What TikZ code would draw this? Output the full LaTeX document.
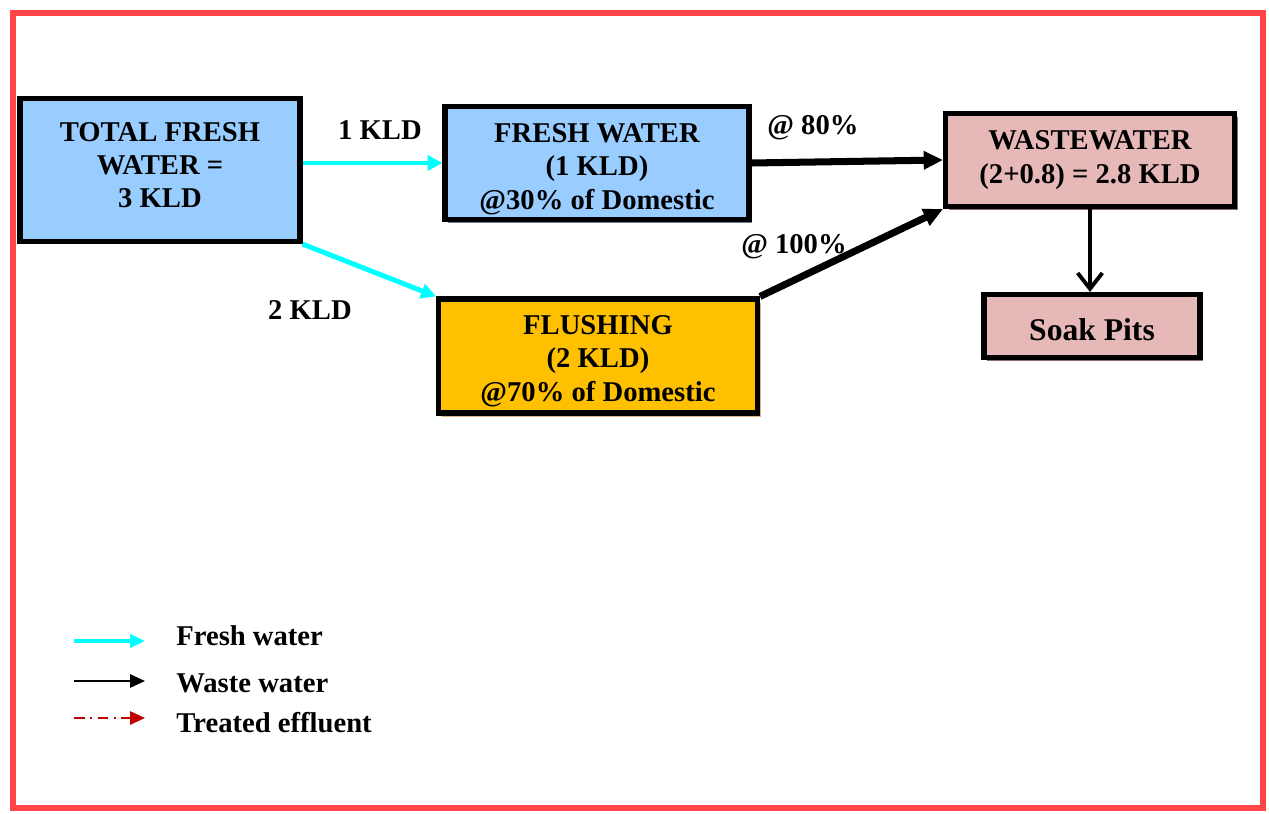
\documentclass[tikz,border=0pt]{standalone}
\usepackage{fontspec}
\setmainfont{Liberation Serif}
\usepackage{tikz}
\usetikzlibrary{arrows.meta, positioning, shadows}
\definecolor{boxblue}{HTML}{99CCFF}
\definecolor{boxorange}{HTML}{FFC000}
\definecolor{boxpink}{HTML}{E6B8B7}
\definecolor{framered}{HTML}{FF4545}
\definecolor{effred}{HTML}{C00000}
\definecolor{freshcyan}{HTML}{00FFFF}
% invisible struts to nudge box text up or down
\newcommand{\padtop}[1]{\rule{0pt}{#1}}
\newcommand{\padbot}[1]{\rule[-#1]{0pt}{#1}}

\begin{document}
\begin{tikzpicture}[
  x=0.02cm, y=-0.02cm,
  font=\bfseries\fontsize{16.3}{19}\selectfont,
  flowbox/.style={rectangle, draw, line width=2.9pt, align=center, inner sep=0pt},
  bluebox/.style={flowbox, fill=boxblue},
  orangebox/.style={flowbox, fill=boxorange,
    drop shadow={shadow xshift=1.8pt, shadow yshift=-2pt, fill=brown!60!white, opacity=1}},
  pinkbox/.style={flowbox, fill=boxpink,
    drop shadow={shadow xshift=1.8pt, shadow yshift=-2pt, fill=boxpink!60!black, opacity=1}},
  fresh/.style={-{Triangle[length=8.5pt, width=8.5pt]}, line width=2.8pt, freshcyan},
  waste/.style={-{Triangle[length=11pt, width=10pt]}, line width=4pt, black},
  legarrow/.style={-{Triangle[length=8.5pt, width=7.5pt]}, line width=1.3pt}
]
\useasboundingbox (0,0) rectangle (1269,814);
\draw[framered, line width=3.4pt] (13,13) rectangle (1263,808);

\node[bluebox, minimum width=5.6cm, minimum height=2.86cm] (TFW) at (160,170)
  {TOTAL FRESH\\WATER =\\3 KLD\padbot{5.6pt}};
\node[bluebox, minimum width=6.08cm, minimum height=2.26cm,
  drop shadow={shadow xshift=1.8pt, shadow yshift=-2pt, fill=gray!60!boxblue!80!black, opacity=1}] (FW) at (597,163)
  {\padtop{17.6pt}FRESH WATER\\(1 KLD)\\@30\% of Domestic};
\node[orangebox, minimum width=6.38cm, minimum height=2.28cm] (FL) at (598,356)
  {\padtop{16.4pt}FLUSHING\\(2 KLD)\\@70\% of Domestic};
\node[pinkbox, minimum width=5.78cm, minimum height=1.86cm] (WW) at (1090,160)
  {WASTEWATER\\(2+0.8) = 2.8 KLD};
\node[pinkbox, minimum width=4.32cm, minimum height=1.26cm,
  font=\bfseries\fontsize{18}{21}\selectfont] (SP) at (1092,326)
  {\padtop{16.9pt}Soak Pits};

\draw[fresh] (TFW.east |- FW.west) -- (FW.west);
\node (l1) at (380,130) {1 KLD};
\draw[fresh] (TFW.south east) -- (FL.north west);
\node (l2) at (310,310) {2 KLD};
\draw[waste] (FW.east) -- (WW.west);
\node (l3) at (813,128) {@ 80\%};
\draw[waste] (FL.north east) -- (WW.south west);
\node (l4) at (794,247) {@ 100\%};
\draw[-{Straight Barb[length=9pt, width=14pt, line width=2.2pt]}, line width=2pt]
  (WW.south) -- (WW.south |- SP.north);

% legend
\coordinate (f1) at (74,641);
\coordinate (f2) at (145,641);
\coordinate (w1) at (74,681);
\coordinate (w2) at (145,681);
\coordinate (e1) at (74,718);
\coordinate (e2) at (145,718);
\draw[legarrow, freshcyan, line width=1.8pt] (f1) -- (f2);
\draw[legarrow, black] (w1) -- (w2);
\draw[legarrow, effred, dash pattern=on 6pt off 3pt on 1.5pt off 3pt] (e1) -- (e2);
\node[anchor=base west, inner sep=0pt] (lf) at (176,645) {Fresh water};
\node[anchor=base west, inner sep=0pt] (lw) at (176,692) {Waste water};
\node[anchor=base west, inner sep=0pt] (le) at (176,732) {Treated effluent};
\end{tikzpicture}
\end{document}
